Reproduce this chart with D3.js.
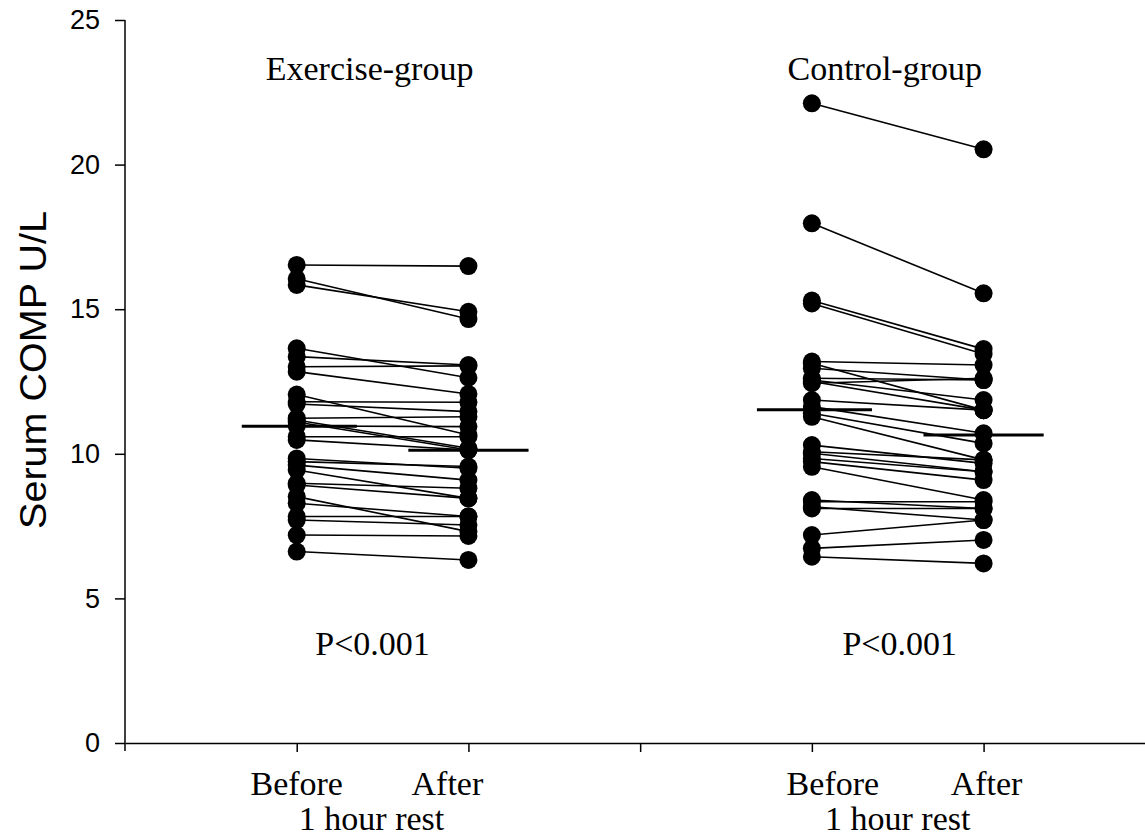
<!DOCTYPE html>
<html>
<head>
<meta charset="utf-8">
<script src="https://cdn.jsdelivr.net/npm/d3@7"></script>
<style>
  html, body { margin: 0; padding: 0; background: #fff; }
  svg { display: block; }
</style>
</head>
<body>
<script>
// Serum COMP (U/L) before and after one hour of rest, paired per subject
const groups = ["Exercise-group", "Control-group"];
const timepoints = ["Before", "After"];
const subLabel = "1 hour rest";
const pLabels = ["P<0.001", "P<0.001"];

const exBefore = [16.53, 16.05, 15.84, 13.65, 13.36, 13.01, 12.84, 12.05, 11.80, 11.72,
                  11.23, 11.17, 11.10, 10.96, 10.59, 10.48, 9.84, 9.73, 9.61, 9.44,
                  8.98, 8.92, 8.52, 8.29, 7.83, 7.71, 7.19, 6.62];
const exAfter  = [16.49, 14.66, 14.91, 12.63, 13.07, 13.04, 12.07, 10.65, 11.78, 11.46,
                  11.28, 10.19, 10.13, 10.94, 10.59, 10.13, 9.50, 9.56, 9.09, 8.46,
                  8.81, 8.46, 7.31, 7.83, 7.83, 7.54, 7.16, 6.33];

const ctBefore = [22.12, 17.97, 15.30, 15.20, 13.19, 13.13, 12.96, 12.61, 12.55, 12.50,
                  12.44, 11.86, 11.63, 11.40, 11.28, 10.30, 10.07, 10.02, 9.84, 9.73,
                  9.55, 8.40, 8.34, 8.17, 8.11, 7.19, 6.73, 6.44];
const ctAfter  = [20.53, 15.55, 13.62, 13.45, 13.07, 11.51, 12.55, 12.55, 11.86, 11.51,
                  12.61, 11.51, 10.71, 10.36, 9.79, 9.67, 9.79, 9.38, 9.38, 9.09,
                  8.40, 8.11, 8.34, 7.71, 8.11, 7.71, 7.02, 6.21];

// group means (horizontal bars)
const meanBefore = [10.95, 11.52];
const meanAfter  = [10.12, 10.65];

const yTicks = [0, 5, 10, 15, 20, 25];
const xTicks = [1, 2, 3, 4, 5];

const W = 1145, H = 836;
const svg = d3.select("body").append("svg").attr("width", W).attr("height", H);

const x = d3.scaleLinear().domain([0, 5.94]).range([125, 1145]);
const y = d3.scaleLinear().domain([0, 25]).range([743, 20]);

const serif = "'Liberation Serif', 'Times New Roman', serif";
const sans = "'Liberation Sans', Arial, Helvetica, sans-serif";

// axes
const yAxis = svg.append("g")
  .attr("transform", `translate(${x(0)},0)`)
  .call(d3.axisLeft(y).tickValues(yTicks).tickSize(10).tickPadding(15).tickSizeOuter(0));
yAxis.select(".domain").remove();
yAxis.append("line").attr("x1", 0).attr("x2", 0).attr("y1", y(25)).attr("y2", y(0) + 8)
  .attr("stroke", "#000").attr("stroke-width", 1.5);
yAxis.selectAll(".tick line").attr("stroke", "#000").attr("stroke-width", 1.5);
yAxis.selectAll(".tick text").attr("font-family", sans).attr("font-size", 27).attr("fill", "#000");

const xAxis = svg.append("g")
  .attr("transform", `translate(0,${y(0)})`)
  .call(d3.axisBottom(x).tickValues(xTicks).tickSize(9).tickFormat("").tickSizeOuter(0));
xAxis.select(".domain").attr("stroke", "#000").attr("stroke-width", 1.5);
xAxis.selectAll(".tick line").attr("stroke", "#000").attr("stroke-width", 1.5);

// y label
svg.append("text")
  .attr("transform", `translate(46,370) rotate(-90)`)
  .attr("text-anchor", "middle")
  .attr("font-family", sans).attr("font-size", 36)
  .attr("textLength", 318).attr("lengthAdjust", "spacingAndGlyphs")
  .text("Serum COMP U/L");

// paired data per group
const series = [
  { before: exBefore, after: exAfter, xb: 1, xa: 2 },
  { before: ctBefore, after: ctAfter, xb: 4, xa: 5 }
];

series.forEach((s, gi) => {
  const pairs = s.before.map((b, i) => ({ b, a: s.after[i] }));
  const g = svg.append("g");
  g.selectAll("line.pair").data(pairs).join("line")
    .attr("x1", x(s.xb)).attr("x2", x(s.xa))
    .attr("y1", d => y(d.b)).attr("y2", d => y(d.a))
    .attr("stroke", "#000").attr("stroke-width", 1.6);
  g.selectAll("circle.b").data(pairs).join("circle")
    .attr("cx", x(s.xb)).attr("cy", d => y(d.b)).attr("r", 9).attr("fill", "#000");
  g.selectAll("circle.a").data(pairs).join("circle")
    .attr("cx", x(s.xa)).attr("cy", d => y(d.a)).attr("r", 9).attr("fill", "#000");

  // mean bars
  g.append("line")
    .attr("x1", x(s.xb - 0.32)).attr("x2", x(s.xb + 0.35))
    .attr("y1", y(meanBefore[gi])).attr("y2", y(meanBefore[gi]))
    .attr("stroke", "#000").attr("stroke-width", 3);
  g.append("line")
    .attr("x1", x(s.xa - 0.35)).attr("x2", x(s.xa + 0.35))
    .attr("y1", y(meanAfter[gi])).attr("y2", y(meanAfter[gi]))
    .attr("stroke", "#000").attr("stroke-width", 3);

  const mid = (x(s.xb) + x(s.xa)) / 2;
  // group title
  svg.append("text").attr("x", mid - 13).attr("y", 80)
    .attr("text-anchor", "middle").attr("font-family", serif).attr("font-size", 34)
    .text(groups[gi]);
  // p-value
  svg.append("text").attr("x", mid - 10 + gi * 12).attr("y", 655)
    .attr("text-anchor", "middle").attr("font-family", serif).attr("font-size", 34)
    .text(pLabels[gi]);
  // timepoint labels
  svg.append("text").attr("x", x(s.xb) + (gi ? 21 : 0)).attr("y", 795)
    .attr("text-anchor", "middle").attr("font-family", serif).attr("font-size", 34)
    .text(timepoints[0]);
  svg.append("text").attr("x", x(s.xa) - (gi ? -3 : 21)).attr("y", 795)
    .attr("text-anchor", "middle").attr("font-family", serif).attr("font-size", 34)
    .text(timepoints[1]);
  svg.append("text").attr("x", mid - 11 + gi * 11).attr("y", 830)
    .attr("text-anchor", "middle").attr("font-family", serif).attr("font-size", 34)
    .text(subLabel);
});
</script>
</body>
</html>
